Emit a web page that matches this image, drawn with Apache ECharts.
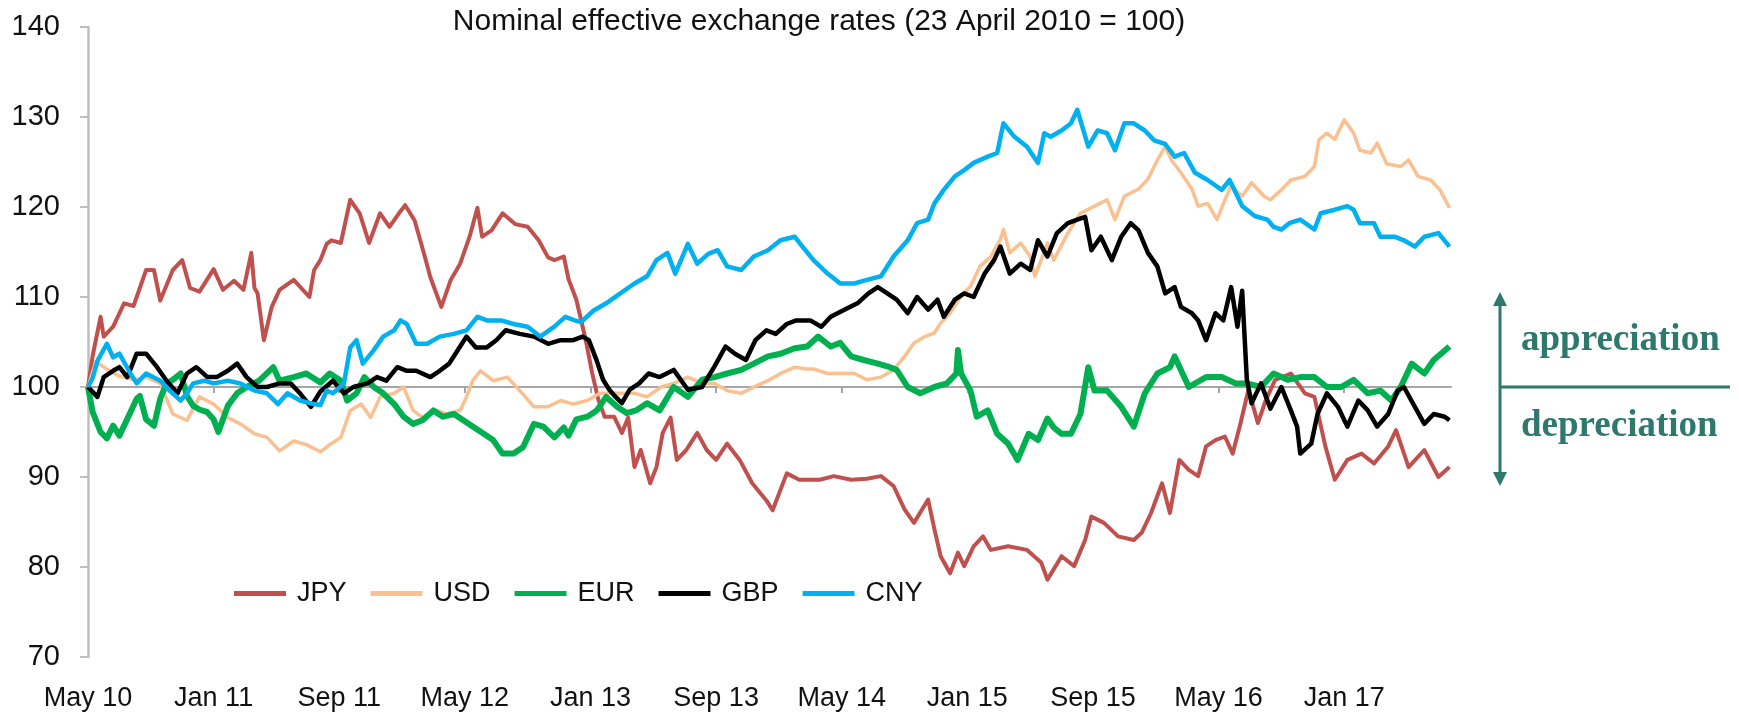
<!DOCTYPE html>
<html>
<head>
<meta charset="utf-8">
<script src="https://cdn.jsdelivr.net/npm/echarts@6/dist/echarts.min.js"></script>
<style>html,body{margin:0;padding:0;background:#fff;}#c{width:1739px;height:712px;}</style>
</head>
<body>
<div id="c"></div>
<script>
// x = months since May 2010, y = index (23 April 2010 = 100)
const xTickLabels = ['May 10','Jan 11','Sep 11','May 12','Jan 13','Sep 13','May 14','Jan 15','Sep 15','May 16','Jan 17'];
const yTicks = [70,80,90,100,110,120,130,140];
const seriesNames = ['JPY','USD','EUR','GBP','CNY'];

const JPY = [[0,100],[0.3,103.5],[0.8,107.8],[1.0,105.6],[1.6,106.7],[2.3,109.3],[2.9,109],[3.7,113],[4.2,113],[4.6,109.6],[5.4,113],[6.0,114.1],[6.5,111],[7.1,110.6],[8.0,113.1],[8.6,110.8],[9.3,111.8],[9.9,110.8],[10.4,114.9],[10.6,111],[10.8,110.4],[11.2,105.2],[11.7,108.9],[12.2,110.8],[13.1,111.9],[14.1,110],[14.4,113],[14.8,114.1],[15.2,115.9],[15.5,116.3],[16.1,116],[16.7,120.8],[17.3,119.3],[17.9,116],[18.6,119.3],[19.2,117.8],[19.8,119.3],[20.2,120.2],[20.8,118.5],[21.4,114.8],[21.8,112.2],[22.5,108.9],[23.1,111.9],[23.7,113.7],[24.3,116.7],[24.8,119.9],[25.1,116.7],[25.7,117.4],[26.4,119.3],[27.2,118.1],[28.0,117.8],[28.7,116.3],[29.3,114.4],[29.7,114.1],[30.3,114.5],[30.6,112],[31.1,109.7],[31.7,105.2],[32.1,101.6],[32.5,98.6],[32.9,96.7],[33.5,96.7],[34.0,94.9],[34.4,96.6],[34.8,91.1],[35.2,93],[35.8,89.3],[36.2,91.1],[36.6,94.9],[37.1,96.6],[37.5,91.9],[38.1,93],[38.8,94.9],[39.4,93],[40.0,91.9],[40.7,93.7],[41.5,91.9],[42.3,89.3],[43.2,87.4],[43.6,86.3],[44.5,90.4],[45.3,89.7],[46.6,89.7],[47.5,90.1],[48.6,89.7],[49.6,89.8],[50.5,90.1],[51.3,89],[52.0,86.4],[52.6,84.9],[53.5,87.5],[53.9,84.2],[54.3,81.2],[54.9,79.3],[55.4,81.6],[55.8,80.1],[56.4,82.3],[57.0,83.4],[57.5,81.9],[58.6,82.3],[59.8,81.9],[60.7,80.5],[61.1,78.6],[62.0,81.2],[62.8,80.1],[63.5,83],[63.9,85.6],[64.7,84.9],[65.6,83.4],[66.6,83],[67.1,83.8],[67.7,86],[68.4,89.3],[68.9,86],[69.5,91.9],[70.1,90.8],[70.7,90.1],[71.2,93.4],[71.8,94.1],[72.4,94.5],[72.9,92.6],[73.4,96],[73.9,99.7],[74.5,96],[75.0,98.5],[75.6,100.8],[76.6,101.5],[77.5,99.3],[78.1,98.9],[78.8,93.4],[79.4,89.7],[80.2,91.9],[81.1,92.6],[81.9,91.5],[82.8,93.4],[83.3,95.2],[84.1,91.1],[85.1,93],[86.0,90],[86.7,91.1]];

const USD = [[0,100],[0.5,102.8],[1.2,102],[2,101.2],[3,100.8],[3.7,101.1],[4.6,100.4],[5.4,97],[6.3,96.3],[7.1,98.9],[8.0,98.1],[8.9,96.6],[9.7,95.9],[10.6,94.8],[11.4,94.4],[12.2,92.9],[13.1,94],[13.9,93.6],[14.8,92.8],[15.4,93.6],[16.1,94.4],[16.7,97.4],[17.4,98.1],[18.0,96.6],[18.6,98.9],[19.5,99.3],[20.1,100],[20.7,97.4],[21.3,96.6],[22.2,97.4],[22.8,97],[23.7,97.4],[24.1,98.9],[24.5,100.7],[25.0,101.8],[25.8,100.7],[26.7,101.1],[27.5,99.6],[28.4,97.8],[29.3,97.8],[30.1,98.5],[30.9,98.1],[31.8,98.5],[32.6,99.3],[33.7,99.3],[34.8,99.3],[35.6,98.9],[36.5,100],[37.3,100.4],[38.2,101.1],[39.1,100.4],[39.9,100.4],[40.7,99.6],[41.6,99.3],[42.4,100],[43.3,100.7],[44.1,101.5],[45.0,102.2],[45.8,102],[46.2,102],[47.1,101.5],[47.9,101.5],[48.8,101.5],[49.6,100.8],[50.5,101.1],[51.3,101.9],[52.0,103.4],[52.6,104.9],[53.3,105.6],[53.9,106],[54.3,107.1],[54.9,108.2],[55.6,110.1],[56.2,111.2],[56.8,113.4],[57.5,114.5],[58.1,116.4],[58.3,117.5],[58.7,114.9],[59.4,116],[60.0,114.5],[60.3,112.3],[60.7,114.1],[61.1,116],[61.5,114.1],[62.4,117.1],[63.2,119.3],[64.1,120.1],[64.9,120.8],[65.4,118.6],[66.0,121.2],[66.9,122],[67.5,123.1],[68.1,125.2],[68.6,126.7],[69.0,125.2],[69.6,123.8],[70.3,122],[70.7,120.1],[71.3,120.4],[71.9,118.6],[72.4,120.8],[72.8,122.3],[73.5,121.2],[74.1,122.7],[74.9,121.2],[75.3,120.8],[76.0,121.9],[76.6,123],[77.5,123.4],[78.1,124.5],[78.4,127.5],[78.9,128.2],[79.4,127.5],[80.0,129.7],[80.6,128.2],[81.0,126.3],[81.7,126],[82.1,127.1],[82.7,124.8],[83.6,124.5],[84.1,125.2],[84.7,123.4],[85.5,123],[86.1,121.9],[86.7,119.9]];

const EUR = [[0,100],[0.3,97.2],[0.8,95],[1.2,94.3],[1.6,95.7],[2.0,94.6],[2.7,97.2],[3.1,98.7],[3.3,99],[3.7,96.4],[4.2,95.7],[4.6,98.7],[5.0,100.4],[5.4,100.8],[5.9,101.5],[6.3,99],[6.7,97.9],[7.1,97.5],[7.6,97.2],[8.0,96.4],[8.3,95],[8.9,97.9],[9.5,99.3],[10.1,100],[10.9,100.7],[11.8,102.2],[12.2,100.7],[13.1,101.1],[13.9,101.5],[14.8,100.5],[15.4,101.5],[16.1,100.7],[16.5,98.5],[17.1,99.3],[17.6,101.1],[18.2,100],[18.8,99.3],[19.5,98.1],[20.1,96.7],[20.7,95.9],[21.3,96.3],[22.0,97.4],[22.6,96.7],[23.3,97],[23.9,96.3],[24.5,95.6],[25.2,94.8],[25.8,94.1],[26.4,92.6],[27.1,92.6],[27.7,93.3],[28.4,95.9],[29.0,95.6],[29.7,94.4],[30.3,95.5],[30.6,94.6],[31.1,96.4],[31.8,96.7],[32.4,97.4],[33.0,98.9],[33.7,97.8],[34.3,97.1],[34.9,97.4],[35.6,98.2],[36.4,97.4],[37.3,100],[38.2,98.9],[39.1,100.8],[39.9,101.1],[40.7,101.5],[41.6,101.9],[42.4,102.6],[43.3,103.4],[44.1,103.7],[45.0,104.3],[45.8,104.5],[46.5,105.6],[47.3,104.5],[47.9,104.9],[48.6,103.4],[49.4,103],[50.3,102.6],[50.9,102.3],[51.5,101.9],[52.2,100],[53.0,99.3],[53.9,100],[54.7,100.4],[55.3,101.5],[55.4,104.1],[55.6,101.5],[56.2,99.6],[56.6,96.7],[57.3,97.4],[57.9,94.8],[58.6,93.7],[59.2,91.9],[59.9,94.8],[60.5,94.1],[61.1,96.5],[61.5,95.5],[62.0,94.8],[62.6,94.8],[63.2,97],[63.7,102.2],[64.1,99.6],[64.9,99.6],[65.8,97.8],[66.6,95.6],[67.3,99.3],[68.1,101.5],[68.9,102.2],[69.2,103.4],[70.1,100],[71.2,101.1],[72.2,101.1],[73.1,100.4],[73.8,100.4],[74.7,100],[75.5,101.5],[76.4,100.8],[77.2,101.1],[78.1,101.1],[78.9,100],[79.8,100],[80.6,100.8],[81.5,99.3],[82.3,99.6],[83.0,98.5],[83.6,100],[84.3,102.6],[85.1,101.5],[85.7,103],[86.7,104.5]];

const GBP = [[0,100],[0.6,98.9],[1.0,101.1],[1.6,101.8],[2.0,102.2],[2.5,101.1],[3.1,103.7],[3.7,103.7],[4.4,102.2],[5.0,100.7],[5.7,99.3],[6.3,101.5],[6.9,102.2],[7.6,101.1],[8.2,101.1],[8.9,101.8],[9.5,102.6],[10.1,101.1],[10.8,100],[11.4,100],[12.2,100.4],[12.9,100.4],[13.5,99.3],[14.2,97.8],[14.8,99.5],[15.6,100.7],[16.3,99.3],[16.9,100],[17.8,100.4],[18.4,101.1],[19.0,100.7],[19.7,102.2],[20.3,101.8],[20.9,101.8],[21.8,101.1],[22.4,101.8],[23.0,102.6],[23.4,103.7],[24.1,105.6],[24.7,104.4],[25.4,104.4],[26.0,105.2],[26.6,106.3],[27.5,105.9],[28.4,105.6],[29.3,104.8],[30.1,105.2],[30.9,105.2],[31.5,105.6],[31.9,105.2],[32.4,102.9],[32.8,100.8],[33.2,99.7],[33.6,98.9],[34.0,98.2],[34.5,99.7],[35.1,100.4],[35.7,101.5],[36.4,101.1],[37.3,101.9],[38.2,99.7],[39.1,100],[39.9,102.3],[40.6,104.5],[41.2,103.7],[41.9,103],[42.5,105.2],[43.2,106.3],[43.8,105.9],[44.5,107],[45.1,107.4],[46.0,107.4],[46.7,106.7],[47.3,107.8],[48.2,108.6],[49.0,109.3],[49.7,110.4],[50.3,111.1],[50.9,110.4],[51.5,109.7],[52.2,108.2],[52.8,110],[53.5,108.6],[54.1,109.7],[54.5,107.8],[55.2,109.7],[55.8,110.4],[56.4,110],[57.1,112.6],[57.7,114.1],[58.1,115.6],[58.7,112.6],[59.4,113.7],[60.0,113],[60.5,116.3],[61.1,114.5],[61.7,117.1],[62.4,118.2],[63.0,118.6],[63.5,118.9],[63.9,115.2],[64.5,116.7],[65.2,114.1],[65.8,116.7],[66.4,118.2],[66.9,117.4],[67.5,114.9],[68.1,113.4],[68.6,110.4],[69.2,111.1],[69.6,108.9],[70.3,108.2],[70.7,107.4],[71.2,105.2],[71.8,108.2],[72.3,107.4],[72.8,111.1],[73.2,106.7],[73.5,110.7],[73.8,100.8],[74.1,98.2],[74.7,100.4],[75.3,97.6],[76.0,100],[76.6,97.4],[77.0,95.6],[77.2,92.6],[77.9,93.7],[78.3,97],[78.9,99.3],[79.6,97.8],[80.2,95.6],[80.9,98.5],[81.5,97.4],[82.1,95.6],[82.8,97],[83.4,99.6],[83.8,100],[84.5,97.8],[85.1,95.9],[85.7,97],[86.4,96.7],[86.7,96.3]];

const CNY = [[0,100],[0.3,101],[0.6,102.9],[1.2,104.8],[1.6,103.3],[2.0,103.7],[2.7,101.5],[3.1,100.4],[3.7,101.5],[4.6,100.7],[5.2,99.6],[5.9,98.5],[6.3,99.3],[6.7,100.4],[7.4,100.7],[8.0,100.4],[8.9,100.7],[9.7,100.4],[10.6,99.6],[11.4,99.3],[12.1,98.1],[12.7,99.3],[13.5,98.5],[14.4,98.1],[14.8,98],[15.2,99.6],[15.6,99.3],[16.3,100.4],[16.7,104.4],[17.1,105.2],[17.5,102.6],[18.2,104.1],[18.8,105.6],[19.5,106.3],[19.9,107.4],[20.3,107],[20.9,104.8],[21.6,104.8],[22.4,105.6],[23.3,105.9],[24.1,106.3],[24.8,107.8],[25.4,107.4],[26.3,107.4],[27.1,107],[28.0,106.7],[28.8,105.6],[29.7,106.7],[30.4,107.8],[31.0,107.4],[31.4,107.2],[32.2,108.5],[33.0,109.3],[33.9,110.4],[34.8,111.5],[35.6,112.3],[36.2,114.1],[36.9,114.9],[37.4,112.6],[38.2,115.9],[38.8,113.7],[39.5,114.8],[40.1,115.2],[40.7,113.4],[41.6,113],[42.4,114.5],[43.3,115.2],[44.1,116.3],[45.0,116.7],[45.5,115.6],[46.2,114.1],[47.1,112.6],[47.9,111.5],[48.8,111.5],[49.6,111.9],[50.5,112.3],[51.3,114.5],[52.2,116.3],[52.8,118.2],[53.5,118.6],[53.9,120.4],[54.5,121.9],[55.2,123.4],[55.8,124.1],[56.4,124.9],[57.3,125.6],[57.9,126],[58.3,129.3],[59.0,127.8],[59.8,126.7],[60.5,124.9],[60.9,128.2],[61.3,127.8],[62.0,128.5],[62.6,129.3],[63.0,130.8],[63.7,126.7],[64.3,128.5],[64.9,128.2],[65.4,126.3],[66.0,129.3],[66.6,129.3],[67.3,128.5],[67.9,127.4],[68.6,127],[69.2,125.6],[69.8,126],[70.5,123.8],[71.3,123],[72.2,121.9],[72.7,123],[73.5,120.1],[74.3,119],[75.1,118.6],[75.5,117.8],[76.0,117.5],[76.5,118.2],[77.2,118.6],[78.1,117.5],[78.5,119.3],[79.4,119.7],[80.2,120.1],[80.6,119.7],[81.0,118.2],[81.9,118.2],[82.3,116.7],[83.2,116.7],[83.8,116.3],[84.5,115.6],[85.1,116.7],[86.0,117.1],[86.7,115.6]];

const seriesData = [JPY, USD, EUR, GBP, CNY];
const colors = ['#c0504d','#fac08f','#00b050','#000000','#00b0f0'];
const widths = [4, 3.5, 6, 4.5, 4.5];
const legendWidths = [5, 4, 6, 5, 4];

const tickPos = xTickLabels.map((_, i) => i * 8);
const FONT = '"Liberation Sans", Arial, sans-serif';
const TEAL = '#2e786d';

const chart = echarts.init(document.getElementById('c'), null, {renderer: 'canvas'});
const GL = 88, GR = 288, GT = 27, GB = 55;

chart.setOption({
  animation: false,
  backgroundColor: '#ffffff',
  title: {
    text: 'Nominal effective exchange rates (23 April 2010 = 100)',
    left: 814, top: 2, textAlign: 'center',
    textStyle: {fontFamily: FONT, fontSize: 30, fontWeight: 'normal', color: '#111'}
  },
  legend: {
    data: seriesNames.map((n, i) => ({
      name: n,
      icon: 'rect',
      itemStyle: {color: colors[i]},
      itemHeight: legendWidths[i]
    })),
    left: 229, top: 575,
    itemWidth: 52, itemHeight: 5, itemGap: 24,
    textStyle: {fontFamily: FONT, fontSize: 27, color: '#111', padding: [0, 0, 0, 6]}
  },
  grid: [
    {left: GL, right: GR, top: GT, bottom: GB},
    {left: GL, right: GR, top: GT, height: 360}
  ],
  xAxis: [
    {
      type: 'value', gridIndex: 0, min: 0, max: 86.8, interval: 8,
      axisLine: {show: false}, axisTick: {show: false}, splitLine: {show: false},
      axisLabel: {
        customValues: tickPos,
        fontFamily: FONT, fontSize: 27, color: '#111', margin: 28,
        formatter: v => { const i = Math.round(v / 8); return (Math.abs(v - i*8) < 1e-6 && xTickLabels[i]) ? xTickLabels[i] : ''; }
      }
    },
    {
      type: 'value', gridIndex: 1, min: 0, max: 86.8, interval: 8,
      axisLine: {show: true, lineStyle: {color: '#a6a6a6', width: 2}},
      axisTick: {show: true, customValues: tickPos, length: 6, lineStyle: {color: '#a6a6a6', width: 2}},
      axisLabel: {show: false}, splitLine: {show: false}
    }
  ],
  yAxis: [
    {
      type: 'value', gridIndex: 0, min: yTicks[0], max: yTicks[yTicks.length-1], interval: 10,
      axisLine: {show: true, lineStyle: {color: '#bfbfbf', width: 2.5}},
      axisTick: {show: true, length: 8, lineStyle: {color: '#bfbfbf', width: 2}},
      splitLine: {show: false},
      axisLabel: {fontFamily: FONT, fontSize: 29, color: '#111', margin: 28}
    },
    {type: 'value', gridIndex: 1, min: 0, max: 1, show: false}
  ],
  series: seriesNames.map((n, i) => ({
    name: n, type: 'line', xAxisIndex: 0, yAxisIndex: 0,
    data: seriesData[i], symbol: 'none', showSymbol: false,
    lineStyle: {color: colors[i], width: widths[i], join: 'round'},
    itemStyle: {color: colors[i]},
    z: 2 + i
  })),
  graphic: [
    {type: 'line', shape: {x1: 1500, y1: 304, x2: 1500, y2: 474}, style: {stroke: TEAL, lineWidth: 3}},
    {type: 'polygon', shape: {points: [[1500, 292], [1493, 306], [1507, 306]]}, style: {fill: TEAL}},
    {type: 'polygon', shape: {points: [[1500, 486], [1493, 472], [1507, 472]]}, style: {fill: TEAL}},
    {type: 'line', shape: {x1: 1500, y1: 387, x2: 1730, y2: 387}, style: {stroke: TEAL, lineWidth: 3}},
    {type: 'text', left: 1521, top: 322, style: {text: 'appreciation', fill: TEAL, font: 'bold 37px "Liberation Serif", "DejaVu Serif", serif'}},
    {type: 'text', left: 1521, top: 408, style: {text: 'depreciation', fill: TEAL, font: 'bold 37px "Liberation Serif", "DejaVu Serif", serif'}}
  ]
});
</script>
</body>
</html>
